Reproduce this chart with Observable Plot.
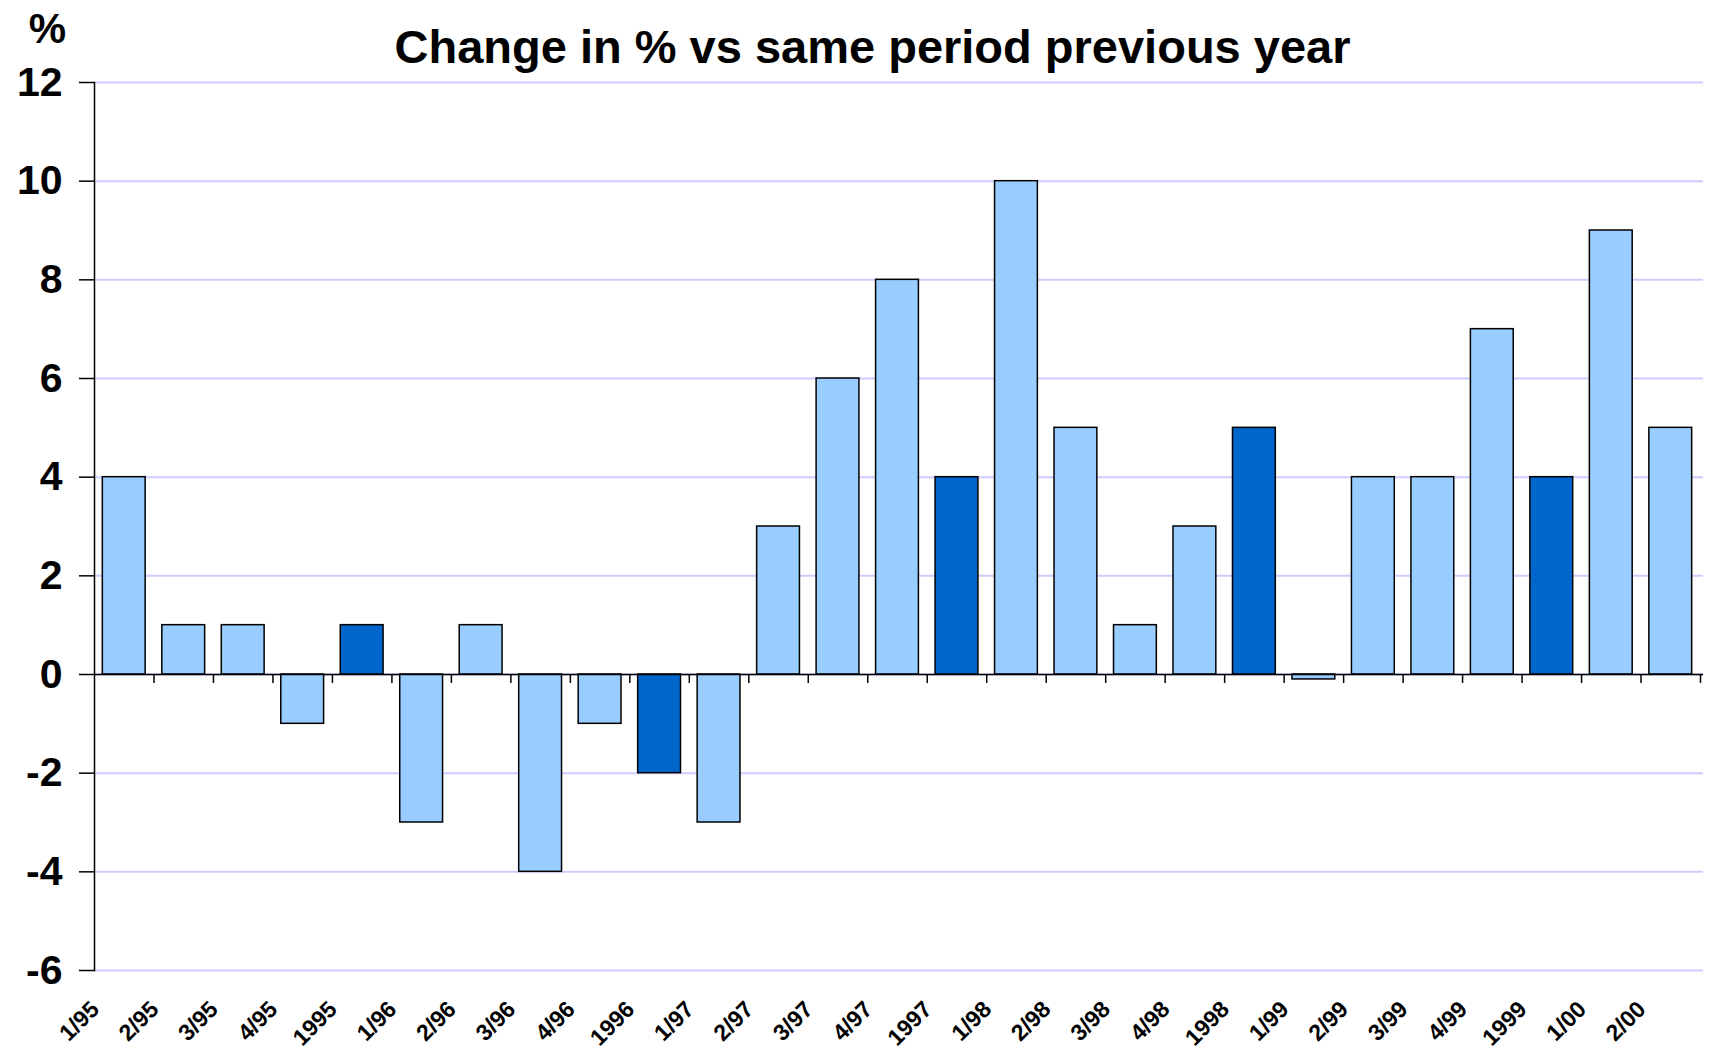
<!DOCTYPE html>
<html>
<head>
<meta charset="utf-8">
<script src="https://cdn.jsdelivr.net/npm/d3@7"></script>
<script src="https://cdn.jsdelivr.net/npm/@observablehq/plot@0.6"></script>
<style>
  html, body { margin: 0; padding: 0; background: #fff; }
</style>
</head>
<body>
<div id="chart"></div>
<script>
const title = "Change in % vs same period previous year";
const unitLabel = "%";
const periods = ["1/95","2/95","3/95","4/95","1995","1/96","2/96","3/96","4/96","1996",
  "1/97","2/97","3/97","4/97","1997","1/98","2/98","3/98","4/98","1998",
  "1/99","2/99","3/99","4/99","1999","1/00","2/00"];
const values = [4, 1, 1, -1, 1, -3, 1, -4, -1, -2,
  -3, 3, 6, 8, 4, 10, 5, 1, 3, 5,
  -0.1, 4, 4, 7, 4, 9, 5];
const yTicks = [-6, -4, -2, 0, 2, 4, 6, 8, 10, 12];

const W = 1710, H = 1050;
const mL = 94, mR = 10, mT = 82, mB = 80;
const step = (W - mL - mR) / periods.length;
const font = "'Liberation Sans', Arial, Helvetica, sans-serif";

const data = periods.map((p, i) => ({period: p, value: values[i], annual: /^\d{4}$/.test(p)}));

const chart = Plot.plot({
  width: W,
  height: H,
  marginLeft: mL,
  marginRight: mR,
  marginTop: mT,
  marginBottom: mB,
  style: {fontFamily: font, color: "black", background: "white", overflow: "visible"},
  x: {domain: periods, paddingInner: 0.28, paddingOuter: 0.14, round: false, axis: null},
  y: {domain: [-6, 12], axis: null, label: null},
  marks: [
    Plot.ruleY(yTicks, {stroke: "#ccccff", strokeWidth: 2, insetRight: -3}),
    Plot.barY(data, {x: "period", y: "value", fill: d => d.annual ? "#0066cc" : "#99ccff", stroke: "black", strokeWidth: 1.5}),
    Plot.ruleY([0], {stroke: "black", strokeWidth: 1.5, insetRight: -3}),
    Plot.ruleX(periods, {x: d => d, y1: 0, y2: 0, dx: step / 2, insetBottom: -9, stroke: "black", strokeWidth: 1.5}),
    Plot.frame({anchor: "left", stroke: "black", strokeWidth: 1.5}),
    Plot.axisY({ticks: yTicks, tickSize: 15, tickPadding: 17, fontSize: 41, fontWeight: "bold", tickFormat: d => String(d), label: null, stroke: "black", strokeWidth: 1.5}),
    Plot.text(periods, {x: d => d, frameAnchor: "bottom", rotate: -45, textAnchor: "end", lineAnchor: "middle", dx: -29, dy: 35, fontSize: 23, fontWeight: "bold", fill: "black", letterSpacing: "-1.5px"}),
    Plot.text([title], {frameAnchor: "top", lineAnchor: "bottom", dx: -25, dy: -20, fontSize: 47, fontWeight: "bold", fill: "black"}),
    Plot.text([unitLabel], {frameAnchor: "top-left", textAnchor: "middle", lineAnchor: "middle", dx: -47, dy: -53, fontSize: 42, fontWeight: "bold", fill: "black"})
  ]
});
document.getElementById("chart").appendChild(chart);
</script>
</body>
</html>
